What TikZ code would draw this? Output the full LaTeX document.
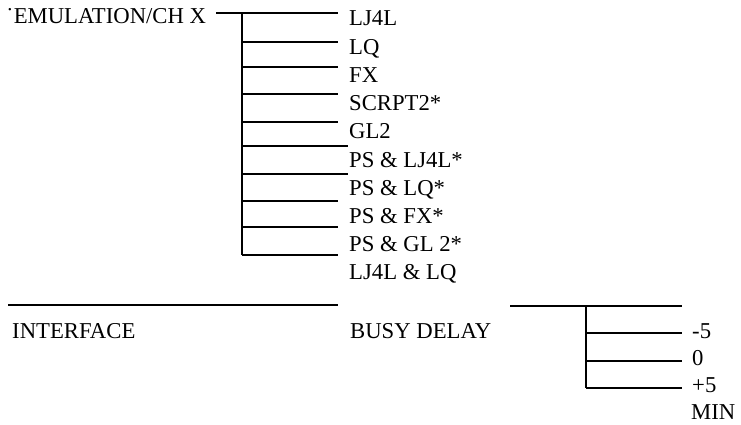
\documentclass[tikz,border=0pt]{standalone}
\usepackage{fontspec}
\setmainfont{Liberation Serif}
\begin{document}
\begin{tikzpicture}[x=1pt,y=-1pt,
  lbl/.style={anchor=base west,inner sep=0pt,font=\fontsize{22.7}{26}\selectfont},
  ln/.style={line width=1.8pt}]
\useasboundingbox (0,0) rectangle (741,425);
% top tree
\node[lbl] (emu) at (6,24) {˙EMULATION/CH X};
\coordinate (e0) at (216,13);
\coordinate (v0) at (242,13);
\coordinate (v9) at (242,255);
\draw[ln] (e0) -- (338,13);
\draw[ln] (v0) -- (v9);
\foreach \y/\e in {42/338,67/338,94/338,122/338,146/348,174/348,201/338,227/338,255/338}{
  \coordinate (b\y) at (242,\y);
  \coordinate (c\y) at (\e,\y);
  \draw[ln] (b\y) -- (c\y);
}
\foreach \t [count=\i from 0] in {LJ4L,LQ,FX,SCRPT2*,GL2,PS \& LJ4L*,PS \& LQ*,PS \& FX*,PS \& GL 2*,LJ4L \& LQ}{
  \node[lbl] (t\i) at (349,26+28.2*\i) {\t};
}
% bottom
\coordinate (h1) at (8,305);
\coordinate (h2) at (338,305);
\draw[ln] (h1) -- (h2);
\node[lbl] (iface) at (12,338) {INTERFACE};
\node[lbl] (busy) at (350,338) {BUSY DELAY};
\coordinate (d0) at (510,306);
\coordinate (d1) at (682,306);
\draw[ln] (d0) -- (d1);
\coordinate (w0) at (586,306);
\coordinate (w3) at (586,388);
\draw[ln] (w0) -- (w3);
\foreach \y in {333,361,388}{
  \coordinate (p\y) at (586,\y);
  \coordinate (q\y) at (682,\y);
  \draw[ln] (p\y) -- (q\y);
}
\node[lbl] (m5) at (692,338) {-5};
\node[lbl] (z0) at (692,365) {0};
\node[lbl] (p5) at (692,392) {+5};
\node[lbl] (min) at (691,419) {MIN};
\end{tikzpicture}
\end{document}
